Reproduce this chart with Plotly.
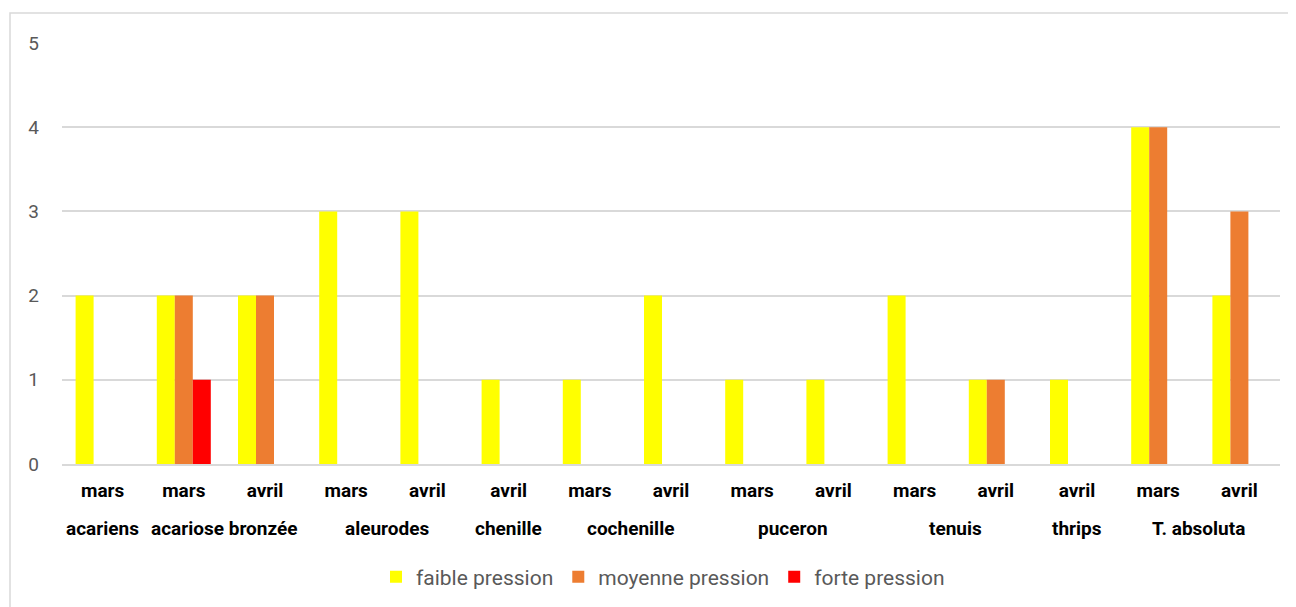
import plotly.graph_objects as go

months = ["mars", "mars", "avril", "mars", "avril", "avril", "mars", "avril",
          "mars", "avril", "mars", "avril", "avril", "mars", "avril"]
pests = ["acariens", "acariose bronzée", "acariose bronzée", "aleurodes", "aleurodes",
         "chenille", "cochenille", "cochenille", "puceron", "puceron",
         "tenuis", "tenuis", "thrips", "T. absoluta", "T. absoluta"]
faible = [2, 2, 2, 3, 3, 1, 1, 2, 1, 1, 2, 1, 1, 4, 2]
moyenne = [0, 2, 2, 0, 0, 0, 0, 0, 0, 0, 0, 1, 0, 4, 3]
forte = [0, 1, 0, 0, 0, 0, 0, 0, 0, 0, 0, 0, 0, 0, 0]

# the page body adds an 8px offset, so pixel targets are shifted by OFF
OFF = 8
W, H = 1296, 607
L, R, T, B = 62 - OFF, 16 + OFF, 43 - OFF, 143 + OFF
pw, ph = W - L - R, H - T - B

def px_x(p):
    return (p - OFF - L) / pw

def px_y(p):
    return (H - B - (p - OFF)) / ph

x = list(range(len(months)))
fig = go.Figure()
for name, vals, color in [
    ("faible pression", faible, "#FFFF00"),
    ("moyenne pression", moyenne, "#ED7D31"),
    ("forte pression", forte, "#FF0000"),
]:
    fig.add_trace(go.Bar(x=x, y=vals, name=name, marker_color=color, marker_line_width=0))

# group labels centred under their months
seen = []
for p in pests:
    if p not in seen:
        seen.append(p)
for p in seen:
    idx = [i for i, q in enumerate(pests) if q == p]
    fig.add_annotation(
        x=sum(idx) / len(idx), y=px_y(528), xref="x", yref="paper",
        text=p, showarrow=False, yanchor="middle",
        font=dict(family="Roboto", size=19, color="#000000", weight="bold"),
    )

fig.add_shape(type="rect", xref="paper", yref="paper",
              x0=px_x(10), x1=px_x(1292), y0=px_y(620), y1=px_y(13),
              line=dict(color="#d9d9d9", width=1.5), fillcolor="rgba(0,0,0,0)", layer="below")

fig.update_layout(
    width=W, height=H,
    margin=dict(l=L, r=R, t=T, b=B),
    paper_bgcolor="white", plot_bgcolor="white",
    barmode="group", bargap=0.335, bargroupgap=0,
    font=dict(family="Roboto", color="#595959"),
    xaxis=dict(
        tickmode="array", tickvals=x, ticktext=months,
        range=[-0.5, len(months) - 0.5],
        tickfont=dict(family="Roboto", size=19, color="#000000", weight="bold"),
        ticklabelstandoff=8, showgrid=False, zeroline=False,
        showline=True, linecolor="#d9d9d9", linewidth=1.5,
    ),
    yaxis=dict(
        range=[0, 5], dtick=1, tickfont=dict(size=19, color="#595959"),
        gridcolor="#d9d9d9", gridwidth=1.5, zeroline=False,
        ticklabelstandoff=22,
    ),
    legend=dict(
        orientation="h", x=px_x(663), xanchor="center", y=px_y(577), yanchor="middle",
        font=dict(size=21, color="#595959"), itemwidth=30,
    ),
)

fig.write_html("out.html")
